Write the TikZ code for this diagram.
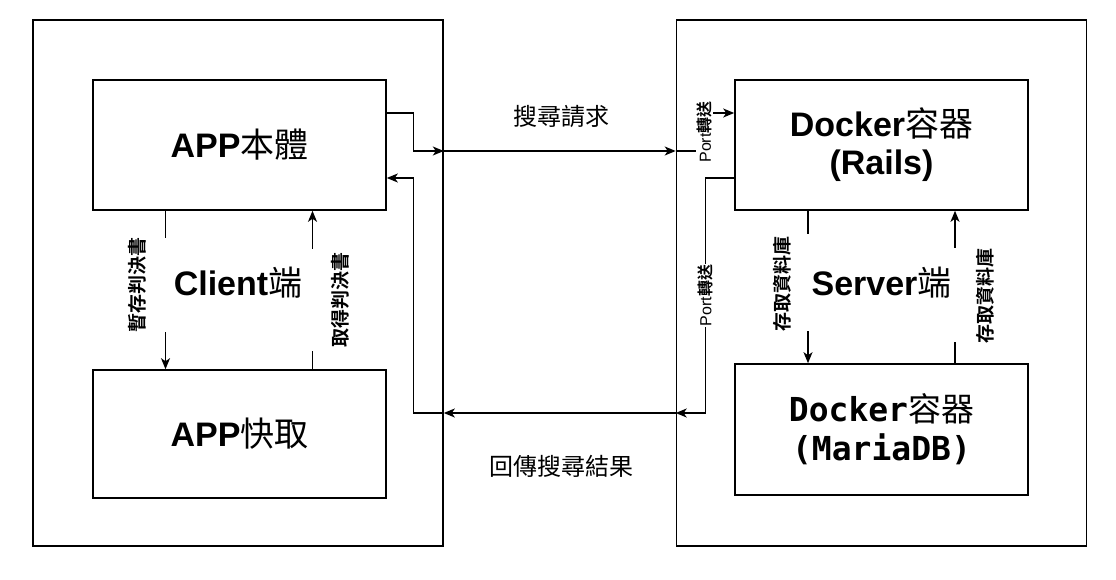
\documentclass[tikz,border=0pt]{standalone}
\usepackage{fontspec}
\setmainfont{Liberation Sans}
\newfontfamily\cjk[BoldFont={Noto Sans CJK TC Bold}]{Noto Sans CJK TC}
\newfontfamily\code{DejaVu Sans Mono}
\usetikzlibrary{arrows.meta}
\newcommand\zh[1]{{\cjk\mdseries #1}}
\tikzset{
  side/.style={draw, line width=1.6pt, minimum width=410pt, minimum height=526pt,
    font=\fontsize{34}{40}\selectfont\bfseries},
  unit/.style={draw, line width=1.6pt, minimum width=293pt, minimum height=130pt,
    align=center, font=\fontsize{34}{38}\selectfont\bfseries},
  wire/.style={line width=1.3pt},
  flow/.style={wire, -{Stealth[length=11pt,width=9pt,inset=3pt]}},
  tag/.style={font=\fontsize{19}{19}\selectfont\cjk\bfseries, rotate=90},
  port/.style={font=\fontsize{16}{16}\selectfont, rotate=90, fill=white, inner sep=1pt},
  note/.style={font=\fontsize{24}{24}\selectfont\cjk}
}
\begin{document}
\begin{tikzpicture}[x=1pt, y=-1pt]
  \useasboundingbox (0,0) rectangle (1116,580);
  % the two sides
  \node [side] (client) at (238,283) {Client\zh{端}};
  \node [side] (server) at (881.5,283) {Server\zh{端}};
  % boxes
  \node [unit] (appmain) at (239.5,145) {APP\zh{本體}};
  \node [unit, minimum height=128pt] (appcache) at (239.5,434) {APP\zh{快取}};
  \node [unit] (rails) at (881.5,145) {Docker\zh{容器}\\(Rails)};
  \node [unit, minimum height=131pt, font=\fontsize{33}{39}\selectfont\code\bfseries]
    (mariadb) at (881.5,429.5) {Docker\zh{容器}\\(MariaDB)};
  % client side
  \draw [wire] ([xshift=-74pt]appmain.south) -- +(0,27);
  \draw [flow] ([xshift=-74pt]appcache.north) +(0,-37) -- ([xshift=-74pt]appcache.north);
  \node [tag] (savetag) at (137,285) {暫存判決書};
  \draw [wire] ([xshift=73pt]appcache.north) -- +(0,-18);
  \draw [flow] ([xshift=73pt]appmain.south) +(0,38) -- ([xshift=73pt]appmain.south);
  \node [tag] (gettag) at (340,300) {取得判決書};
  % server side
  \draw [wire] ([xshift=-73.5pt]rails.south) -- +(0,23);
  \draw [flow] ([xshift=-73.5pt]mariadb.north) +(0,-32) -- ([xshift=-73.5pt]mariadb.north);
  \node [tag] (readtag) at (782,284) {存取資料庫};
  \draw [wire] ([xshift=73.5pt]mariadb.north) -- +(0,-21);
  \draw [flow] ([xshift=73.5pt]rails.south) +(0,37) -- ([xshift=73.5pt]rails.south);
  \node [tag] (writetag) at (985,296) {存取資料庫};
  % request
  \draw [flow] ([yshift=32pt]appmain.east) -- ++(27,0) |- ([yshift=132pt]client.east);
  \draw [flow] ([yshift=132pt]client.east) -- ([yshift=132pt]server.west);
  \draw [flow] ([yshift=132pt]server.west) -- ++(29,0)
    |- node [port, pos=0.25] {Port{\cjk\bfseries 轉送}} ([yshift=32pt]rails.west);
  \node [note] (asktext) at (561,117) {搜尋請求};
  % reply
  \draw [flow] ([yshift=-33pt]rails.west) -- ++(-29,0)
    |- node [port, pos=0.25] {Port{\cjk\bfseries 轉送}} ([yshift=-130pt]server.west);
  \draw [flow] ([yshift=-130pt]server.west) -- ([yshift=-130pt]client.east);
  \draw [flow] ([yshift=-130pt]client.east) -- ++(-30,0) |- ([yshift=-33pt]appmain.east);
  \node [note] (backtext) at (561,466) {回傳搜尋結果};
\end{tikzpicture}
\end{document}
